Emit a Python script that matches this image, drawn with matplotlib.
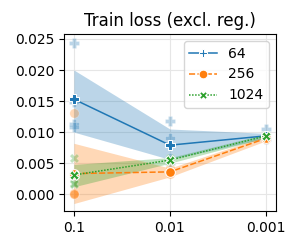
import numpy as np
import matplotlib
matplotlib.use('Agg')
import matplotlib.pyplot as plt
from matplotlib.ticker import FormatStrFormatter

# learning rates (categorical x axis)
LRS = ['0.1', '0.01', '0.001']
BATCHES = ['64', '256', '1024']

# per-seed train loss, one list per learning rate
SEEDS_64 = [[0.0243, 0.0148, 0.0113, 0.0108],
            [0.0118, 0.0090, 0.0058, 0.0050],
            [0.0105, 0.0092, 0.0090, 0.0089]]
SEEDS_256 = [[0.0130, 0.0002, 0.0001, 0.0000],
             [0.0042, 0.0036, 0.0034, 0.0032],
             [0.0092, 0.0090, 0.0089, 0.0089]]
SEEDS_1024 = [[0.0058, 0.0032, 0.0018, 0.0016],
              [0.0058, 0.0055, 0.0053, 0.0054],
              [0.0096, 0.0094, 0.0093, 0.0093]]

# error band
BAND_LO_64 = [0.0100, 0.0056, 0.0090]
BAND_HI_64 = [0.0200, 0.0105, 0.0098]
BAND_LO_256 = [-0.0015, 0.0028, 0.0086]
BAND_HI_256 = [0.0082, 0.0042, 0.0094]
BAND_LO_1024 = [0.0012, 0.0050, 0.0091]
BAND_HI_1024 = [0.0048, 0.0059, 0.0097]

COLORS = ['#1f77b4', '#ff7f0e', '#2ca02c']
MARKERS = ['P', 'o', 'X']
DASHES = [(None, None), (4, 1.5), (1, 1)]


def main():
    fig, ax = plt.subplots(figsize=(3, 2.5), dpi=100)
    fig.subplots_adjust(left=0.213, right=0.92, top=0.864, bottom=0.156)

    x = np.arange(len(LRS))
    seeds = [SEEDS_64, SEEDS_256, SEEDS_1024]
    lows = [BAND_LO_64, BAND_LO_256, BAND_LO_1024]
    highs = [BAND_HI_64, BAND_HI_256, BAND_HI_1024]

    for i, lab in enumerate(BATCHES):
        ax.fill_between(x, lows[i], highs[i], color=COLORS[i], alpha=0.3,
                        linewidth=0, zorder=1)

    for i, lab in enumerate(BATCHES):
        for j, vals in enumerate(seeds[i]):
            ax.scatter([x[j]] * len(vals), vals, s=45, marker=MARKERS[i],
                       color=COLORS[i], alpha=0.3, edgecolor='white',
                       linewidth=0.5, zorder=2)

    for i, lab in enumerate(BATCHES):
        means = [np.mean(v) for v in seeds[i]]
        line, = ax.plot(x, means, color=COLORS[i], marker=MARKERS[i],
                        markersize=7, markeredgecolor='white',
                        markeredgewidth=0.75, linewidth=1.1, label=lab,
                        zorder=3)
        if DASHES[i][0] is not None:
            line.set_dashes(DASHES[i])

    ax.set_xticks(x)
    ax.set_xticklabels(LRS)
    ax.set_xlim(-0.104, 2.104)
    ax.set_ylim(-0.0027, 0.0258)
    ax.set_yticks(np.arange(0, 0.0251, 0.005))
    ax.yaxis.set_major_formatter(FormatStrFormatter('%.3f'))
    ax.grid(True, color='#e6e6e6', linewidth=0.8)
    ax.set_axisbelow(True)
    ax.set_title('Train loss (excl. reg.)', fontsize=12)
    ax.legend(loc='upper right', fontsize=10, markerscale=0.9)

    fig.savefig('out.png', dpi=100)
    plt.close(fig)


if __name__ == '__main__':
    main()
